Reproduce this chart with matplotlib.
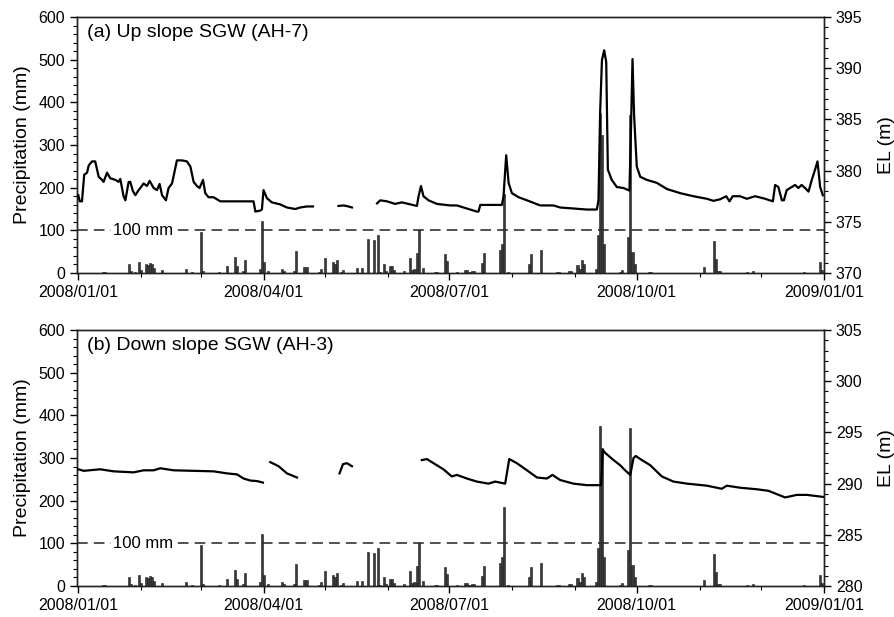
import matplotlib
matplotlib.use('Agg')
import matplotlib.pyplot as plt
import matplotlib.dates as mdates
from matplotlib.ticker import MultipleLocator
import numpy as np
import pandas as pd

plt.rcParams['font.family'] = ['Liberation Sans', 'DejaVu Sans']

# daily precipitation (day offset from 2008/01/01, mm)
rain_days = [12, 13, 25, 26, 28, 30, 31, 33, 34, 35, 36, 37, 41, 53, 56, 60, 61, 69, 73, 77,
             78, 81, 82, 89, 90, 91, 93, 100, 101, 106, 107, 111, 112, 118, 119, 121, 125, 126,
             127, 129, 130, 137, 139, 142, 145, 147, 148, 150, 151, 153, 154, 155, 160, 163,
             164, 165, 166, 167, 169, 175, 176, 180, 181, 186, 190, 191, 192, 193, 194, 198,
             199, 207, 208, 209, 211, 221, 222, 227, 235, 236, 241, 242, 245, 246, 247, 248,
             254, 255, 256, 257, 258, 266, 267, 270, 271, 272, 273, 280, 281, 307, 312, 313,
             314, 315, 328, 331, 356, 364, 365]
rain_mm = [3, 2, 22, 5, 3, 26, 8, 20, 18, 23, 20, 12, 6, 9, 3, 96, 5, 3, 16, 37,
           16, 5, 30, 10, 123, 27, 4, 9, 5, 4, 51, 14, 14, 3, 9, 35, 26, 20,
           30, 3, 6, 12, 12, 80, 77, 88, 3, 22, 5, 16, 16, 6, 5, 35,
           6, 10, 47, 100, 12, 2, 2, 45, 28, 3, 6, 6, 3, 4, 4, 23,
           47, 55, 67, 185, 3, 20, 45, 55, 3, 3, 4, 4, 18, 10, 31, 22,
           10, 88, 376, 323, 67, 3, 8, 84, 370, 50, 22, 3, 3, 14, 74, 34,
           4, 4, 3, 4, 2, 26, 8]

# groundwater level, up slope AH-7 (nan = no record)
up_days = [0, 0.7, 1.8, 2.9, 4.3, 5.1, 6.7, 8.3, 10, 11.6, 12.4, 14.1, 15.7, 18.2, 19.8, 20.6,
           22.2, 23.1, 24.7, 25.5, 26.8, 28, 29.6, 31.2, 32, 33.7, 35, 37, 38.6, 39.9, 41.1,
           43, 44.3, 46, 48.4, 50.9, 53.3, 55, 56.6, 58.2, 59.5, 61.2, 62.3, 63.9, 66.4, 69.7,
           73, 86, 86.9, 89.3, 90.1, 90.9, 92.6, 95, 99.1, 102.4, 106.5, 108.9, 112.2, 115.2,
           121, 127.7, 130.2, 132.6, 134.3, 140, 146.6, 148.2, 151.5, 155.5, 158.8, 162.9,
           166.2, 167, 168.2, 169.4, 171.9, 176, 182.5, 185.8, 190.7, 195.6, 196.4, 197.3,
           202.2, 207.9, 208.7, 210, 211.2, 212.8, 216.1, 220.2, 226.7, 233.2, 236.5, 243,
           249.6, 254.5, 255.3, 256.1, 257, 258.1, 259.1, 259.9, 261.8, 264.3, 267.6, 270.5,
           271.2, 272, 272.8, 274.1, 275.8, 279, 284, 288.9, 295.4, 301.9, 308.5, 311.7, 315,
           318, 319.6, 321.2, 324.8, 328.1, 332.2, 337.1, 340.9, 342, 343.6, 345.3, 346.3,
           347.7, 350.2, 351.8, 353.4, 355, 356.7, 358.4, 360, 361.6, 362.8, 364.1, 365.4]
up_el = [377.6, 377.0, 377.0, 379.6, 379.8, 380.5, 380.9, 380.9, 379.4, 379.1, 378.9, 379.8,
         379.25, 379.1, 378.9, 379.2, 377.5, 377.1, 378.9, 378.9, 378.0, 377.6, 378.1, 378.5,
         378.75, 378.5, 379.0, 378.3, 378.1, 378.7, 377.6, 377.1, 378.3, 378.75, 381.0, 381.0,
         380.9, 380.4, 378.9, 378.5, 378.3, 379.1, 377.8, 377.4, 377.4, 377.0, 377.0, 377.0,
         376.0, 376.1, 376.2, 378.1, 377.3, 376.9, 376.7, 376.4, 376.25, 376.4, 376.5, 376.5,
         np.nan, 376.55, 376.6, 376.5, 376.4, np.nan, 376.8, 377.1, 377.0, 376.75, 376.9,
         376.7, 376.55, 377.5, 378.5, 377.5, 377.1, 376.75, 376.6, 376.6, 376.3, 376.0, 376.0,
         376.65, 376.65, 376.65, 377.5, 381.5, 378.8, 377.8, 377.4, 377.1, 376.6, 376.6, 376.4,
         376.3, 376.2, 376.2, 377.1, 385.6, 390.8, 391.75, 390.6, 380.1, 379.1, 378.4, 378.3,
         378.05, 383.6, 390.9, 385.3, 380.4, 379.4, 379.1, 378.8, 378.2, 377.8, 377.5, 377.25,
         377.05, 377.2, 377.5, 377.0, 377.5, 377.5, 377.25, 377.5, 377.25, 377.0, 378.6, 378.4,
         377.1, 377.1, 378.1, 378.4, 378.6, 378.3, 378.6, 378.3, 377.95, 379.1, 380.1, 380.9,
         378.4, 377.6]

# groundwater level, down slope AH-3
down_days = [0, 2.6, 10.8, 17.3, 27.1, 32, 37, 40.2, 46.8, 56.6, 66.4, 73, 77.9, 81.1, 84.4,
             87.7, 90.6, 92, 94.2, 98.3, 102.4, 107.3, 118, 128.2, 129.9, 131.8, 134.3, 150,
             168.6, 171.1, 174.3, 179.2, 183.3, 185.8, 190.7, 195.6, 201.3, 204.6, 209.5,
             211.5, 215.2, 220.2, 225.1, 230, 232.7, 236.5, 243, 249.6, 256.6, 257.4, 258.6,
             262.7, 265.9, 268.4, 270.9, 272.5, 273.6, 275.8, 280.7, 286.4, 292.1, 298.7,
             308.5, 315.8, 318.3, 324.8, 333, 338.7, 346.9, 352.6, 357.6, 365.7]
down_el = [291.4, 291.25, 291.4, 291.2, 291.1, 291.3, 291.3, 291.5, 291.3, 291.25, 291.2,
           291.0, 290.9, 290.5, 290.3, 290.25, 290.1, np.nan, 292.1, 291.7, 291.0, 290.6,
           np.nan, 291.0, 291.9, 292.0, 291.7, np.nan, 292.3, 292.4, 292.0, 291.4, 290.7,
           290.85, 290.5, 290.2, 290.0, 290.2, 290.0, 292.4, 292.0, 291.3, 290.6, 290.5,
           290.85, 290.35, 290.0, 289.85, 289.85, 293.3, 293.0, 292.3, 291.8, 291.3, 290.85,
           292.5, 292.7, 292.4, 291.8, 290.7, 290.2, 290.0, 289.8, 289.5, 289.8, 289.6,
           289.45, 289.3, 288.65, 288.9, 288.9, 288.7]

start = pd.Timestamp('2008-01-01')


def to_dates(days):
    return start + pd.to_timedelta(np.array(days, dtype=float), unit='D')


def draw_panel(ax, title, days, el, el_lim):
    ax.bar(to_dates(rain_days), rain_mm, width=1.0, color='#3a3a3a',
           edgecolor='#1a1a1a', linewidth=0.4, zorder=2)
    ax.axhline(100, color='#222222', lw=1.1, ls=(0, (7, 4)), zorder=1)
    ax.text(start + pd.Timedelta(days=32), 100, '100 mm', fontsize=12,
            ha='center', va='center', zorder=3,
            bbox=dict(facecolor='white', edgecolor='none', pad=1.5))
    ax.set_ylim(0, 600)
    ax.set_xlim(start - pd.Timedelta(hours=19), pd.Timestamp('2009-01-01'))
    ax.yaxis.set_major_locator(MultipleLocator(100))
    ax.yaxis.set_minor_locator(MultipleLocator(20))
    ax.xaxis.set_major_locator(mdates.MonthLocator(bymonth=[1, 4, 7, 10]))
    ax.xaxis.set_minor_locator(mdates.MonthLocator())
    ax.xaxis.set_major_formatter(mdates.DateFormatter('%Y/%m/%d'))
    ax.set_ylabel('Precipitation (mm)', fontsize=14, labelpad=5)
    ax.tick_params(axis='both', which='major', direction='out', length=5,
                   width=1, labelsize=11.5, top=False)
    ax.tick_params(axis='both', which='minor', direction='out', length=3,
                   width=0.8, top=False)
    ax.text(0.014, 0.94, title, transform=ax.transAxes, fontsize=14,
            ha='left', va='center')

    ax2 = ax.twinx()
    ax2.plot(to_dates(days), el, color='black', lw=1.6, zorder=4)
    ax2.set_ylim(*el_lim)
    ax2.yaxis.set_major_locator(MultipleLocator(5))
    ax2.yaxis.set_minor_locator(MultipleLocator(1))
    ax2.set_ylabel('EL (m)', fontsize=14, labelpad=11)
    ax2.tick_params(axis='y', which='major', direction='out', length=5,
                    width=1, labelsize=11.5)
    ax2.tick_params(axis='y', which='minor', direction='out', length=3, width=0.8)
    for a in (ax, ax2):
        for s in a.spines.values():
            s.set_linewidth(1.0)
            s.set_color('#222222')
    return ax2


fig = plt.figure(figsize=(8.95, 6.17), dpi=100)
ax_top = fig.add_axes([0.0857, 0.5575, 0.8350, 0.4149])
ax_bot = fig.add_axes([0.0857, 0.0502, 0.8350, 0.4149])

draw_panel(ax_top, '(a) Up slope SGW (AH-7)', up_days, up_el, (370, 395))
draw_panel(ax_bot, '(b) Down slope SGW (AH-3)', down_days, down_el, (280, 305))

fig.savefig('out.png', dpi=100)
